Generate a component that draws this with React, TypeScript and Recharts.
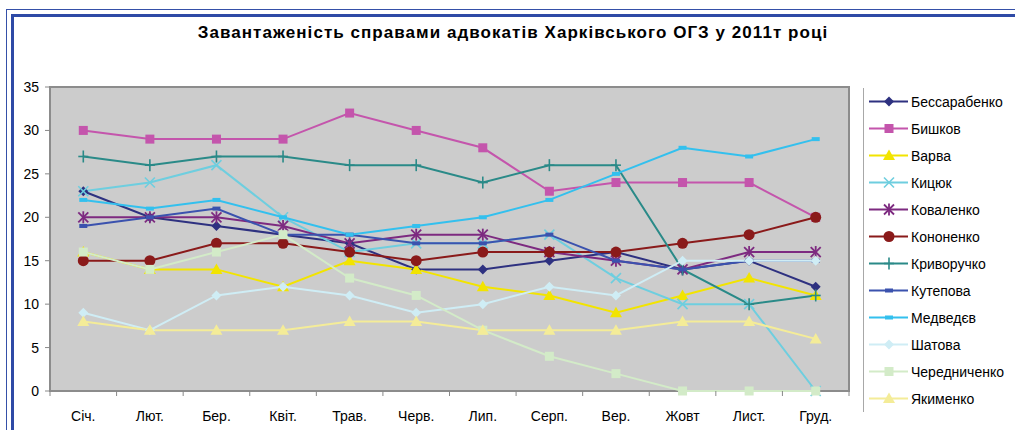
import React from 'react';
import { LineChart, Line, XAxis, YAxis, Legend, ReferenceArea } from 'recharts';

const months = ['Січ.', 'Лют.', 'Бер.', 'Квіт.', 'Трав.', 'Черв.', 'Лип.', 'Серп.', 'Вер.', 'Жовт', 'Лист.', 'Груд.'];
const yTicks = [0, 5, 10, 15, 20, 25, 30, 35];

const bessarabenko = [23, 20, 19, 18, 17, 14, 14, 15, 16, 14, 15, 12];
const byshkov = [30, 29, 29, 29, 32, 30, 28, 23, 24, 24, 24, 20];
const varva = [16, 14, 14, 12, 15, 14, 12, 11, 9, 11, 13, 11];
const kytsiuk = [23, 24, 26, 20, 16, 17, 17, 18, 13, 10, 10, 0];
const kovalenko = [20, 20, 20, 19, 17, 18, 18, 16, 15, 14, 16, 16];
const kononenko = [15, 15, 17, 17, 16, 15, 16, 16, 16, 17, 18, 20];
const kryvoruchko = [27, 26, 27, 27, 26, 26, 24, 26, 26, 14, 10, 11];
const kutepova = [19, 20, 21, 18, 18, 17, 17, 18, 15, 14, 15, 15];
const medvedev = [22, 21, 22, 20, 18, 19, 20, 22, 25, 28, 27, 29];
const shatova = [9, 7, 11, 12, 11, 9, 10, 12, 11, 15, 15, 15];
const cherednychenko = [16, 14, 16, 18, 13, 11, 7, 4, 2, 0, 0, 0];
const yakymenko = [8, 7, 7, 7, 8, 8, 7, 7, 7, 8, 8, 6];

type Shape = 'diamond' | 'square' | 'triangle' | 'x' | 'asterisk' | 'circle' | 'plus' | 'dash';

const series: { key: string; name: string; values: number[]; color: string; shape: Shape }[] = [
  { key: 's1', name: 'Бессарабенко', values: bessarabenko, color: '#2E3180', shape: 'diamond' },
  { key: 's2', name: 'Бишков', values: byshkov, color: '#C455AC', shape: 'square' },
  { key: 's3', name: 'Варва', values: varva, color: '#F2E400', shape: 'triangle' },
  { key: 's4', name: 'Кицюк', values: kytsiuk, color: '#6ECEDF', shape: 'x' },
  { key: 's5', name: 'Коваленко', values: kovalenko, color: '#7D2A80', shape: 'asterisk' },
  { key: 's6', name: 'Кононенко', values: kononenko, color: '#8A1A1A', shape: 'circle' },
  { key: 's7', name: 'Криворучко', values: kryvoruchko, color: '#2A8A88', shape: 'plus' },
  { key: 's8', name: 'Кутепова', values: kutepova, color: '#3B52AE', shape: 'dash' },
  { key: 's9', name: 'Медведєв', values: medvedev, color: '#33C0EE', shape: 'dash' },
  { key: 's10', name: 'Шатова', values: shatova, color: '#CFEDF5', shape: 'diamond' },
  { key: 's11', name: 'Чередниченко', values: cherednychenko, color: '#D3EBC8', shape: 'square' },
  { key: 's12', name: 'Якименко', values: yakymenko, color: '#F4EC98', shape: 'triangle' },
];

const data = months.map((m, i) => {
  const row: Record<string, string | number> = { month: m };
  series.forEach((s) => {
    row[s.key] = s.values[i];
  });
  return row;
});

const FONT = '"Liberation Sans", Arial, sans-serif';

function Marker({ shape, cx, cy, color }: { shape: Shape; cx: number; cy: number; color: string }) {
  switch (shape) {
    case 'diamond':
      return <polygon points={`${cx},${cy - 5} ${cx + 5},${cy} ${cx},${cy + 5} ${cx - 5},${cy}`} fill={color} />;
    case 'square':
      return <rect x={cx - 4.5} y={cy - 4.5} width={9} height={9} fill={color} />;
    case 'triangle':
      return <polygon points={`${cx},${cy - 6} ${cx + 6},${cy + 4.5} ${cx - 6},${cy + 4.5}`} fill={color} />;
    case 'x':
      return (
        <g stroke={color} strokeWidth={1.6}>
          <line x1={cx - 5} y1={cy - 5} x2={cx + 5} y2={cy + 5} />
          <line x1={cx - 5} y1={cy + 5} x2={cx + 5} y2={cy - 5} />
        </g>
      );
    case 'asterisk':
      return (
        <g stroke={color} strokeWidth={1.8}>
          <line x1={cx - 5} y1={cy - 5} x2={cx + 5} y2={cy + 5} />
          <line x1={cx - 5} y1={cy + 5} x2={cx + 5} y2={cy - 5} />
          <line x1={cx} y1={cy - 6} x2={cx} y2={cy + 6} />
        </g>
      );
    case 'circle':
      return <circle cx={cx} cy={cy} r={5.5} fill={color} />;
    case 'plus':
      return (
        <g stroke={color} strokeWidth={1.6}>
          <line x1={cx} y1={cy - 6} x2={cx} y2={cy + 6} />
          <line x1={cx - 5} y1={cy} x2={cx + 5} y2={cy} />
        </g>
      );
    case 'dash':
    default:
      return <rect x={cx - 4} y={cy - 2} width={8} height={4} fill={color} />;
  }
}

function XTick(props: any) {
  const { x, y, payload, index, width } = props;
  const half = payload && payload.offset ? payload.offset : width / 24;
  const isLast = index === months.length - 1;
  return (
    <g>
      <line x1={x - half} y1={y - 8} x2={x - half} y2={y - 3} stroke="#888" strokeWidth={1} />
      {isLast && <line x1={x + half} y1={y - 8} x2={x + half} y2={y - 3} stroke="#888" strokeWidth={1} />}
      <text x={x} y={y + 22} textAnchor="middle" fontSize={14} fontFamily={FONT} fill="#000">
        {payload.value}
      </text>
    </g>
  );
}

function LegendContent() {
  return (
    <div style={{ borderLeft: '1px solid #A8A8A8', height: 324, fontFamily: FONT, fontSize: 14, color: '#000' }}>
      {series.map((s) => (
        <div key={s.key} style={{ height: 27, display: 'flex', alignItems: 'center' }}>
          <svg width={47} height={27} style={{ display: 'block', flex: 'none' }}>
            <line x1={5} y1={13.5} x2={44} y2={13.5} stroke={s.color} strokeWidth={2} />
            <Marker shape={s.shape} cx={25} cy={13.5} color={s.color} />
          </svg>
          <span style={{ whiteSpace: 'nowrap' }}>{s.name}</span>
        </div>
      ))}
    </div>
  );
}

export default function App() {
  return (
    <div style={{ position: 'absolute', left: 0, top: 0, width: 1015, height: 430, overflow: 'hidden', background: '#fff' }}>
      <div style={{ position: 'absolute', left: 6, top: 9, width: 1009, height: 421, borderLeft: '1px solid #3550A8', borderTop: '1px solid #3550A8' }} />
      <div style={{ position: 'absolute', left: 11, top: 14, width: 1004, height: 416, borderLeft: '3px solid #2E4AA6', borderTop: '3px solid #2E4AA6' }} />
      <div
        style={{
          position: 'absolute',
          left: 0,
          top: 23,
          width: 1026,
          textAlign: 'center',
          fontFamily: FONT,
          fontWeight: 'bold',
          fontSize: 17,
          letterSpacing: 1.05,
          color: '#000',
        }}
      >
        Завантаженість справами адвокатів Харківського ОГЗ у 2011т році
      </div>
      <div style={{ position: 'absolute', left: 0, top: 0 }}>
        <LineChart width={1015} height={430} data={data} margin={{ top: 87, right: 166, bottom: 0, left: 10 }}>
          <ReferenceArea y1={0} y2={35} fill="#CCCCCC" fillOpacity={1} stroke="#8C8C8C" strokeWidth={2} ifOverflow="visible" />
          <XAxis
            dataKey="month"
            scale="band"
            height={39}
            axisLine={false}
            tickLine={false}
            interval={0}
            tick={(p: any) => <XTick {...p} />}
          />
          <YAxis
            domain={[0, 35]}
            ticks={yTicks}
            width={40}
            axisLine={false}
            tickLine={{ stroke: '#888' }}
            tickSize={5}
            tickMargin={6}
            tick={{ fontSize: 14, fontFamily: FONT, fill: '#000' }}
            interval={0}
          />
          {series.map((s) => (
            <Line
              key={s.key}
              type="linear"
              dataKey={s.key}
              name={s.name}
              stroke={s.color}
              strokeWidth={2}
              isAnimationActive={false}
              dot={(p: any) => {
                if (p.cx == null || p.cy == null) return <g key={`${s.key}-${p.index}`} />;
                return (
                  <g key={`${s.key}-${p.index}`}>
                    <Marker shape={s.shape} cx={p.cx} cy={p.cy} color={s.color} />
                  </g>
                );
              }}
              activeDot={false}
            />
          ))}
          <Legend
            layout="vertical"
            align="center"
            verticalAlign="middle"
            content={() => <LegendContent />}
            wrapperStyle={{ left: 863, top: 88, width: 152, height: 324 }}
          />
        </LineChart>
      </div>
    </div>
  );
}
